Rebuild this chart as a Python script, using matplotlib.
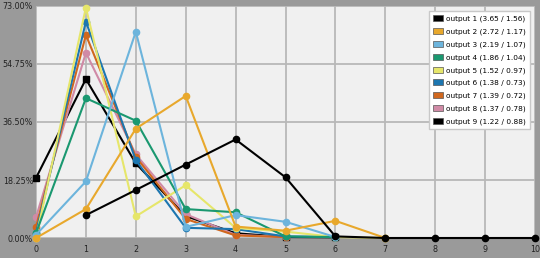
import numpy as np
import matplotlib
matplotlib.use('Agg')
import matplotlib.pyplot as plt
from matplotlib.patches import Patch

# values in percent (nan = no point)
nan = np.nan
x_vals = list(range(11))
out1 = [nan, 7.2, 15.1, 23.1, 31.0, 19.1, 0.5, 0.0, 0.0, 0.0, 0.0]
out2 = [0.0, 9.1, 34.4, 44.7, 3.6, 2.3, 5.4, 0.0, nan, nan, nan]
out3 = [1.0, 17.8, 64.9, 3.5, 7.2, 5.1, 0.3, nan, nan, nan, nan]
out4 = [1.5, 44.0, 36.9, 9.1, 8.1, 0.5, 0.3, nan, nan, nan, nan]
out5 = [0.0, 72.5, 6.8, 16.6, 3.2, 2.0, 0.3, 0.0, nan, nan, nan]
out6 = [1.5, 68.1, 24.5, 3.2, 2.8, 0.5, 0.3, nan, nan, nan, nan]
out7 = [3.5, 63.9, 25.5, 6.0, 0.8, 0.3, nan, nan, nan, nan, nan]
out8 = [6.5, 58.3, 26.3, 7.5, 1.0, 0.3, nan, nan, nan, nan, nan]
out9 = [18.9, 50.0, 23.5, 6.9, 1.5, 0.3, 0.2, nan, nan, nan, nan]

labels = ['output 1 (3.65 / 1.56)', 'output 2 (2.72 / 1.17)', 'output 3 (2.19 / 1.07)',
          'output 4 (1.86 / 1.04)', 'output 5 (1.52 / 0.97)', 'output 6 (1.38 / 0.73)',
          'output 7 (1.39 / 0.72)', 'output 8 (1.37 / 0.78)', 'output 9 (1.22 / 0.88)']
series = [out1, out2, out3, out4, out5, out6, out7, out8, out9]
colors = ['#000000', '#e8a82c', '#6cb4dc', '#1a9870', '#e6e66a',
          '#1c76b0', '#d0671e', '#d08aa6', '#000000']
markers = ['o', 'o', 'o', 'o', 'o', 'o', 'o', 'o', 's']

y_ticks = [0, 18.25, 36.5, 54.75, 73]

fig = plt.figure(figsize=(5.4, 2.58), dpi=100, facecolor='#9a9a9a')
ax = fig.add_axes([36 / 540, 1 - 238 / 258, 499 / 540, 232 / 258])
ax.set_facecolor('#f0f0f0')

# draw in reverse so output 1 sits on top like the original
for i in range(len(series) - 1, -1, -1):
    ax.plot(x_vals, series[i], color=colors[i], lw=1.5, marker=markers[i],
            ms=4.5, label=labels[i], clip_on=False, zorder=3 + (9 - i) * 0.1)

ax.set_xlim(0, 10)
ax.set_ylim(0, 73)
ax.set_xticks(x_vals)
ax.set_yticks(y_ticks)
ax.set_yticklabels(['%.2f%%' % v for v in y_ticks])
ax.grid(color='#b8b8b8', lw=1.3)
ax.set_axisbelow(True)
ax.tick_params(axis='y', length=0, labelsize=5.8, labelcolor='#222222', pad=2)
ax.tick_params(axis='x', length=0, labelsize=5.8, labelcolor='#222222', pad=5)
for s in ax.spines.values():
    s.set_visible(False)

patches = [Patch(facecolor=colors[i], edgecolor='#555555', lw=0.5) for i in range(9)]
leg = ax.legend(patches, labels, loc='upper right', fontsize=5.3, frameon=True,
                fancybox=False, edgecolor='#c8c8c8', facecolor='white', framealpha=1,
                handlelength=1.4, handleheight=0.9, handletextpad=0.4,
                labelspacing=0.78, borderpad=0.55, borderaxespad=0.7)
leg.set_zorder(10)

fig.savefig('out.png', dpi=100, facecolor=fig.get_facecolor())
